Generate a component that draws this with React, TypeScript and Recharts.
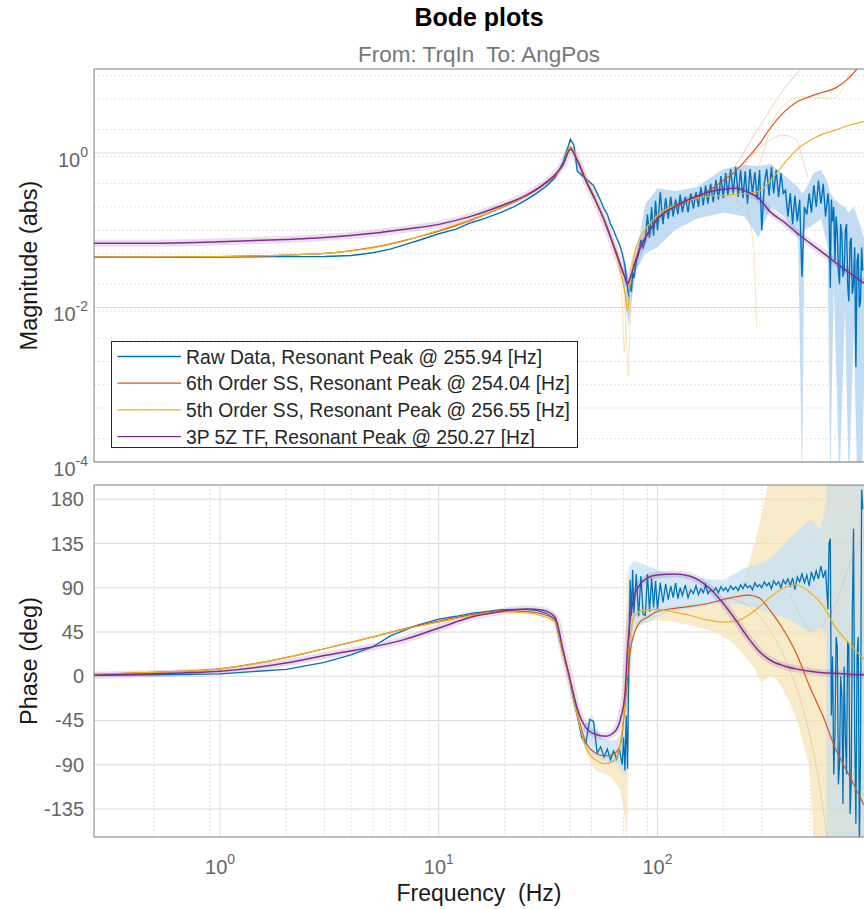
import { ComposedChart, Line, Area, XAxis, YAxis, CartesianGrid, ReferenceLine } from 'recharts'

const FONT = '"Liberation Sans", Arial, Helvetica, sans-serif'
const BLUE = '#0072BD'
const RED = '#D95319'
const YELLOW = '#EDB120'
const PURPLE = '#7E2F8E'
const AXIS = '#7f7f7f'
const TICK_TEXT = '#666666'

const F_MIN = 0.265
const F_MAX = 880
const MAG_MIN = 1e-4
const MAG_MAX = 12.2
const PH_MIN = -163.5
const PH_MAX = 194.5

// ---- fitted models, sampled at fitFreq [Hz]
const fitFreq = [0.265, 0.5, 1, 2, 3, 5, 7, 10, 14, 19, 25, 30, 34, 37, 40, 43, 47, 52, 58, 64, 68, 71, 73, 75, 78, 83, 90, 100, 120, 140, 170, 200, 230, 260, 290, 330, 380, 430, 500, 570, 650, 750, 880]

const ss6Mag = [0.045, 0.045, 0.0457, 0.0475, 0.05, 0.06, 0.074, 0.097, 0.134, 0.192, 0.275, 0.38, 0.51, 0.69, 1.18, 0.8, 0.43, 0.244, 0.123, 0.058, 0.035, 0.0245, 0.02, 0.0237, 0.035, 0.06, 0.091, 0.142, 0.198, 0.244, 0.32, 0.44, 0.6, 0.88, 1.26, 2.15, 3.4, 4.5, 5.4, 6.1, 6.9, 9.3, 16]
const ss5Mag = [0.045, 0.045, 0.0457, 0.0475, 0.05, 0.059, 0.073, 0.1, 0.137, 0.195, 0.28, 0.39, 0.52, 0.71, 1.22, 0.85, 0.47, 0.26, 0.126, 0.055, 0.0286, 0.0152, 0.0091, 0.0193, 0.0457, 0.0786, 0.112, 0.156, 0.21, 0.244, 0.275, 0.283, 0.292, 0.3, 0.318, 0.443, 0.735, 1.08, 1.46, 1.75, 1.97, 2.28, 2.57]
const tfMag = [0.068, 0.068, 0.0707, 0.076, 0.0806, 0.0912, 0.103, 0.119, 0.151, 0.204, 0.283, 0.39, 0.525, 0.71, 1.12, 0.8, 0.443, 0.244, 0.119, 0.055, 0.034, 0.0245, 0.0204, 0.0237, 0.034, 0.0566, 0.088, 0.138, 0.204, 0.252, 0.31, 0.338, 0.349, 0.309, 0.26, 0.17, 0.127, 0.094, 0.0677, 0.0513, 0.0384, 0.0285, 0.0207]

const ss6Phase = [2, 4, 7.5, 19, 28, 40, 48.5, 56, 62.5, 66.5, 66, 63, 57, 24, -8, -38, -67, -78, -81, -78, -68, -30, -2, 25, 42, 55, 60, 66, 69, 71, 74, 78, 81, 82.5, 80, 66, 46, 24, -12, -40, -73, -100, -131]
const ss5Phase = [2, 4, 7.5, 19, 28, 40, 48, 55, 61.5, 65.5, 64.5, 61, 55, 22, -8, -40, -72, -85, -89, -85, -65, -25, 15, 40, 60, 66, 67.5, 68, 65, 62, 57, 55, 56, 62, 70, 81, 90, 93, 85, 72, 50, 34, 17]
const tfPhase = [1, 2.5, 5, 13.5, 21, 30, 37.5, 49, 60, 65.5, 68.5, 67, 60, 27, -5, -33, -52, -59, -61, -56, -42, -18, 28, 58, 80, 93, 100, 103, 104, 102, 91, 74, 56, 39, 26, 16, 10.5, 7.5, 5, 3.5, 3, 2, 1.5]

// ---- raw measured response
const rawFreq = [
  0.265, 0.5, 1, 2, 3, 4, 5, 6, 7, 8,
  10, 12, 14, 16, 19, 22, 25, 28, 31, 34,
  37, 39, 40, 41.5, 43, 45, 47, 48, 49, 51,
  53, 55, 57, 59, 61, 63, 65, 67, 69, 70,
  71, 72, 73, 74, 75, 76, 77, 78, 80, 82,
  84, 86,
  88, 90, 92, 94, 96, 98, 100,
  103, 106, 109, 112, 115, 118, 121, 124, 127, 130,
  134, 138, 142, 146, 150, 154, 158, 162, 166, 170,
  175, 180, 185, 190, 195, 200, 205, 210, 216, 222,
  228, 234, 240, 246, 252, 258, 265, 272, 279, 286,
  293, 300, 308, 316, 324, 332, 340, 349, 358, 367,
  376, 385, 395, 405, 415, 425, 436, 447, 458, 470,
  482, 494, 506, 519, 532, 545, 559, 573, 587,
  602, 609, 617, 624, 632, 640, 648, 656, 664, 672,
  680, 688, 697, 705, 714, 723, 732, 741, 750, 760,
  769, 778, 788, 798, 808, 818, 828, 838, 848, 858,
  868,
]
const rawMag = [
  0.045, 0.0445, 0.045, 0.0455, 0.0457, 0.047, 0.051, 0.057, 0.065, 0.073,
  0.09, 0.103, 0.125, 0.14, 0.168, 0.2, 0.245, 0.3, 0.37, 0.48,
  0.75, 1.2, 1.5, 1.25, 0.58, 0.52, 0.47, 0.44, 0.42, 0.38,
  0.3, 0.24, 0.19, 0.16, 0.12, 0.1, 0.08, 0.066, 0.05, 0.042,
  0.034, 0.025, 0.018, 0.0137, 0.02, 0.016, 0.028, 0.024, 0.04, 0.05,
  0.075, 0.06,
  0.074, 0.16, 0.08, 0.2, 0.085, 0.24, 0.1,
  0.31, 0.12, 0.26, 0.14, 0.27, 0.15, 0.25, 0.16, 0.29, 0.17,
  0.27, 0.17, 0.3, 0.19, 0.31, 0.2, 0.36, 0.21, 0.38, 0.22,
  0.4, 0.23, 0.45, 0.25, 0.5, 0.26, 0.55, 0.28, 0.62, 0.3,
  0.66, 0.27, 0.6, 0.26, 0.58, 0.22, 0.62, 0.3, 0.56, 0.25,
  0.6, 0.1, 0.4, 0.62, 0.28, 0.66, 0.3, 0.6, 0.27, 0.55,
  0.3, 0.33, 0.15, 0.3, 0.12, 0.28, 0.13, 0.25, 0.025, 0.2,
  0.16, 0.3, 0.17, 0.38, 0.2, 0.44, 0.22, 0.4, 0.15,
  0.3, 0.2, 0.018, 0.25, 0.13, 0.2, 0.04, 0.15, 0.1, 0.03,
  0.02, 0.12, 0.09, 0.025, 0.03, 0.1, 0.12, 0.02, 0.012, 0.07,
  0.08, 0.015, 0.02, 0.06, 0.0017, 0.04, 0.05, 0.01, 0.012, 0.06,
  0.03,
]
const rawPhase = [
  1, 1.5, 2.5, 7, 14, 22, 30, 41, 47, 52,
  58, 61, 64, 65.5, 67.5, 68, 68, 67, 64, 58,
  22, 5, -8, -25, -40, -62, -68, -56, -44, -46,
  -78, -72, -82, -74, -85, -76, -84, -74, -90, -62,
  -96, -40, -94, 20, 98, 62, 108, 64, 104, 61,
  102, 63,
  62, 104, 66, 100, 70, 97, 68,
  95, 75, 94, 78, 92, 80, 95, 79, 90, 82,
  93, 80, 88, 84, 92, 83, 89, 85, 93, 84,
  88, 86, 90, 85, 91, 87, 90, 86, 92, 88,
  91, 87, 93, 89, 94, 90, 92, 88, 95, 91,
  93, 90, 96, 92, 95, 89, 97, 93, 96, 90,
  98, 94, 99, 92, 100, 88, 101, 96, 104, 95,
  103, 92, 106, 98, 107, 99, 112, 100, 108,
  68, 135, 140, -40, 20, -100, -60, 40, 30, -110,
  -90, 0, -20, -130, 10, -60, -100, 35, 30, -140,
  -110, 60, 150, -60, -150, 20, 40, -170, -80, 190,
  170,
]

// light-blue spread of the raw data
const rawMagBandFreq = [70, 72, 74, 76, 80, 88, 100, 120, 150, 200, 250, 290, 330, 380, 440, 458, 470, 520, 560, 600, 617, 640, 680, 720, 750, 790, 820, 860, 880]
const rawMagLo = [0.02, 0.01, 0.0055, 0.012, 0.03, 0.05, 0.06, 0.1, 0.14, 0.17, 0.15, 0.08, 0.2, 0.15, 0.08, 0.00005, 0.1, 0.12, 0.14, 0.06, 0.00005, 0.02, 0.00005, 0.01, 0.00005, 0.005, 0.00005, 0.00005, 0.001]
const rawMagHi = [0.045, 0.035, 0.022, 0.03, 0.05, 0.22, 0.35, 0.32, 0.36, 0.62, 0.7, 0.68, 0.72, 0.52, 0.36, 0.3, 0.32, 0.56, 0.6, 0.42, 0.3, 0.26, 0.22, 0.2, 0.17, 0.2, 0.15, 0.1, 0.08]

const rawPhBandFreq = [40, 45, 50, 55, 60, 65, 70, 72, 74, 78, 90, 110, 150, 200, 250, 300, 350, 400, 450, 500, 560, 590]
const rawPhLo = [-12, -66, -80, -85, -88, -88, -100, -100, -20, 50, 55, 65, 70, 75, 72, 68, 62, 58, 50, 45, 50, 40]
const rawPhHi = [-4, -55, -38, -62, -65, -65, -55, -30, 110, 118, 112, 105, 100, 98, 110, 115, 125, 140, 150, 160, 150, 180]
// beyond ~590 Hz the raw spread covers the whole phase range
const rawPhWideFreq = [592, 880]
const rawPhWideLo = [-250, -250]
const rawPhWideHi = [250, 250]

// uncertainty of the 5th order fit (phase)
const ss5BandFreq = [44, 47, 52, 58, 64, 68, 70, 71.5, 72.5, 73.5, 75, 78, 90, 100, 140, 170, 200, 230, 250, 275, 300, 330, 380, 420, 460, 500, 540, 880]
const ss5PhLo = [-52, -76, -95, -100, -108, -120, -135, -150, -165, -100, 20, 45, 55, 57, 52, 47, 40, 30, 20, 10, -5, 0, -16, -36, -65, -105, -250, -250]
const ss5PhHi = [-44, -64, -78, -80, -76, -60, -30, 30, 110, 100, 90, 75, 72, 72, 73, 74, 78, 88, 100, 132, 165, 210, 250, 250, 250, 250, 250, 250]

// faint bound curves
const ss6MagHiFreq = [170, 215, 290, 390, 500]
const ss6MagHi = [0.32, 0.56, 2.1, 7.5, 16]
const ss6MagLoFreq = [200, 215, 295, 376, 433, 462, 488]
const ss6MagLo = [0.4, 0.443, 1.19, 1.7, 1.46, 0.8, 0.48]
const ss5MagHiFreq = [230, 284, 353, 452, 635, 681, 781, 850]
const ss5MagHi = [0.3, 0.597, 3.27, 5.3, 5.1, 5.9, 12.9, 20]
const ss5MagLoFreq = [200, 223, 255, 275, 284]
const ss5MagLo = [0.27, 0.244, 0.181, 0.0605, 0.0056]
const notchAFreq = [62, 66, 69, 70.6, 72, 75, 80]
const notchA = [0.07, 0.04, 0.012, 0.0026, 0.01, 0.03, 0.06]
const notchBFreq = [64, 68, 71, 72.5, 73.6, 74.5, 76, 79]
const notchB = [0.06, 0.03, 0.01, 0.003, 0.0013, 0.004, 0.015, 0.04]
const ss6PhLoFreq = [200, 240, 290, 337, 405, 485, 535, 593, 620]
const ss6PhLo = [80, 76, 62, 42, 5, -50, -94, -161, -200]
const ss6PhHiFreq = [405, 450, 500, 540, 600, 672, 760, 880]
const ss6PhHi = [83, 62, 46, 46, 60, 80, 115, 145]

const legendItems = [
  { name: 'Raw Data, Resonant Peak @ 255.94 [Hz]', color: BLUE },
  { name: '6th Order SS, Resonant Peak @ 254.04 [Hz]', color: RED },
  { name: '5th Order SS, Resonant Peak @ 256.55 [Hz]', color: YELLOW },
  { name: '3P 5Z TF, Resonant Peak @ 250.27 [Hz]', color: PURPLE },
]

const pts = (fs: number[], vs: number[]) => fs.map((f, i) => ({ f, v: vs[i] }))
const band = (fs: number[], lo: number[], hi: number[]) => fs.map((f, i) => ({ f, v: [lo[i], hi[i]] }))

// grid positions
const freqMajor = [1, 10, 100]
const freqMinor: number[] = []
for (let k = -1; k <= 2; k++) {
  for (let d = 2; d <= 9; d++) {
    const v = d * Math.pow(10, k)
    if (v >= F_MIN && v <= F_MAX) freqMinor.push(v)
  }
}
const magMajor = [1e-4, 1e-2, 1]
const magMinor: number[] = []
for (let k = -4; k <= 1; k++) {
  for (let d = 1; d <= 9; d++) {
    const v = d * Math.pow(10, k)
    if (d === 1 && k % 2 === 0) continue
    if (v <= MAG_MAX) magMinor.push(v)
  }
}
const phaseTicks = [-135, -90, -45, 0, 45, 90, 135, 180]

function MagTick(props: any) {
  const { x, y, payload } = props
  const e = Math.round(Math.log10(payload.value))
  return (
    <text x={x} y={y} dy={14} textAnchor="end" fill={TICK_TEXT} fontSize={20} fontFamily={FONT}>
      10<tspan dy={-10} fontSize={14}>{e}</tspan>
    </text>
  )
}

function PhaseTick(props: any) {
  const { x, y, payload } = props
  return (
    <text x={x} y={y} dy={7} textAnchor="end" fill={TICK_TEXT} fontSize={20} fontFamily={FONT}>
      {payload.value}
    </text>
  )
}

function FreqTick(props: any) {
  const { x, y, payload } = props
  const e = Math.round(Math.log10(payload.value))
  return (
    <text x={x} y={y} dy={37} textAnchor="middle" fill={TICK_TEXT} fontSize={20} fontFamily={FONT}>
      10<tspan dy={-10} fontSize={14}>{e}</tspan>
    </text>
  )
}

const lineProps = { dot: false, activeDot: false, isAnimationActive: false, type: 'linear' as const }

export default function App() {
  return (
    <div style={{ position: 'absolute', left: 0, top: 0, width: 864, height: 909, overflow: 'hidden', background: '#fff', fontFamily: FONT }}>
      <div style={{ position: 'absolute', left: 0, top: 0 }}>
        <ComposedChart width={864} height={480} margin={{ top: 69, right: 0, bottom: 0, left: 0 }}>
          <CartesianGrid verticalValues={freqMinor} horizontalValues={magMinor} stroke="#e2e2e2" strokeDasharray="2 2" />
          <CartesianGrid verticalValues={freqMajor} horizontalValues={magMajor} stroke="#dadada" />
          <XAxis type="number" dataKey="f" scale="log" domain={[F_MIN, F_MAX]} allowDataOverflow ticks={freqMajor} tick={false} tickLine={false} height={18} stroke={AXIS} />
          <YAxis type="number" scale="log" domain={[MAG_MIN, MAG_MAX]} allowDataOverflow ticks={magMajor} width={94} tickSize={0} tickMargin={6} tick={(p: any) => <MagTick {...p} />} stroke={AXIS} />
          <ReferenceLine y={MAG_MAX} stroke={AXIS} />

          <Area data={band(rawMagBandFreq, rawMagLo, rawMagHi)} dataKey="v" stroke="none" fill="#c2ddf3" fillOpacity={1} isAnimationActive={false} activeDot={false} />
          <Line {...lineProps} data={pts(ss6MagHiFreq, ss6MagHi)} dataKey="v" stroke={RED} strokeOpacity={0.3} strokeWidth={1} type="monotone" />
          <Line {...lineProps} data={pts(ss6MagLoFreq, ss6MagLo)} dataKey="v" stroke={RED} strokeOpacity={0.25} strokeWidth={1} type="monotone" />
          <Line {...lineProps} data={pts(ss5MagHiFreq, ss5MagHi)} dataKey="v" stroke={YELLOW} strokeOpacity={0.35} strokeWidth={1} type="monotone" />
          <Line {...lineProps} data={pts(ss5MagLoFreq, ss5MagLo)} dataKey="v" stroke={YELLOW} strokeOpacity={0.3} strokeWidth={1} type="monotone" />
          <Line {...lineProps} data={pts(notchAFreq, notchA)} dataKey="v" stroke={YELLOW} strokeOpacity={0.3} strokeWidth={1} type="monotone" />
          <Line {...lineProps} data={pts(notchBFreq, notchB)} dataKey="v" stroke={YELLOW} strokeOpacity={0.3} strokeWidth={1} type="monotone" />
          <Line {...lineProps} data={pts(fitFreq, tfMag)} dataKey="v" stroke={PURPLE} strokeOpacity={0.16} strokeWidth={7} type="monotone" />

          <Line {...lineProps} data={pts(rawFreq, rawMag)} dataKey="v" stroke={BLUE} strokeWidth={1.4} />
          <Line {...lineProps} data={pts(fitFreq, ss6Mag)} dataKey="v" stroke={RED} strokeWidth={1.2} type="monotone" />
          <Line {...lineProps} data={pts(fitFreq, ss5Mag)} dataKey="v" stroke={YELLOW} strokeWidth={1.2} type="monotone" />
          <Line {...lineProps} data={pts(fitFreq, tfMag)} dataKey="v" stroke={PURPLE} strokeWidth={1.5} type="monotone" />
        </ComposedChart>
      </div>

      <div style={{ position: 'absolute', left: 0, top: 470 }}>
        <ComposedChart width={864} height={439} margin={{ top: 15, right: 0, bottom: 0, left: 0 }}>
          <CartesianGrid verticalValues={freqMinor} horizontal={false} stroke="#e2e2e2" strokeDasharray="2 2" />
          <CartesianGrid verticalValues={freqMajor} horizontalValues={phaseTicks} stroke="#dadada" />
          <XAxis type="number" dataKey="f" scale="log" domain={[F_MIN, F_MAX]} allowDataOverflow ticks={freqMajor} height={72} tickSize={0} tickMargin={0} tick={(p: any) => <FreqTick {...p} />} stroke={AXIS} />
          <YAxis type="number" domain={[PH_MIN, PH_MAX]} allowDataOverflow ticks={phaseTicks} width={94} tickSize={0} tickMargin={10} tick={(p: any) => <PhaseTick {...p} />} stroke={AXIS} />
          <ReferenceLine y={PH_MAX} stroke={AXIS} />

          <Area data={band(ss5BandFreq, ss5PhLo, ss5PhHi)} dataKey="v" stroke="none" fill="#f5e2b4" fillOpacity={0.7} isAnimationActive={false} activeDot={false} type="monotone" />
          <Area data={band(rawPhBandFreq, rawPhLo, rawPhHi)} dataKey="v" stroke="none" fill="#c6e0f4" fillOpacity={0.75} isAnimationActive={false} activeDot={false} />
          <Area data={band(rawPhWideFreq, rawPhWideLo, rawPhWideHi)} dataKey="v" stroke="none" fill="#bcd9f1" fillOpacity={0.55} isAnimationActive={false} activeDot={false} />
          <Line {...lineProps} data={pts(ss6PhLoFreq, ss6PhLo)} dataKey="v" stroke={RED} strokeOpacity={0.2} strokeWidth={1} type="monotone" />
          <Line {...lineProps} data={pts(ss6PhHiFreq, ss6PhHi)} dataKey="v" stroke={RED} strokeOpacity={0.15} strokeWidth={1} type="monotone" />
          <Line {...lineProps} data={pts(fitFreq, tfPhase)} dataKey="v" stroke={PURPLE} strokeOpacity={0.16} strokeWidth={7} type="monotone" />

          <Line {...lineProps} data={pts(rawFreq, rawPhase)} dataKey="v" stroke={BLUE} strokeWidth={1.3} />
          <Line {...lineProps} data={pts(fitFreq, ss6Phase)} dataKey="v" stroke={RED} strokeWidth={1.2} type="monotone" />
          <Line {...lineProps} data={pts(fitFreq, ss5Phase)} dataKey="v" stroke={YELLOW} strokeWidth={1.2} type="monotone" />
          <Line {...lineProps} data={pts(fitFreq, tfPhase)} dataKey="v" stroke={PURPLE} strokeWidth={1.5} type="monotone" />
        </ComposedChart>
      </div>

      <svg width={864} height={909} style={{ position: 'absolute', left: 0, top: 0, pointerEvents: 'none' }} fontFamily={FONT}>
        <text x={479} y={26} textAnchor="middle" fontSize={25} fontWeight="bold" fill="#000">Bode plots</text>
        <text x={479} y={62} textAnchor="middle" fontSize={22.5} fill="#777" style={{ whiteSpace: 'pre' }}>From: TrqIn  To: AngPos</text>
        <text transform="translate(37,265.5) rotate(-90)" textAnchor="middle" fontSize={23.5} fill="#1a1a1a">Magnitude (abs)</text>
        <text transform="translate(37,661) rotate(-90)" textAnchor="middle" fontSize={23.5} fill="#1a1a1a">Phase (deg)</text>
        <text x={479} y={901} textAnchor="middle" fontSize={23} fill="#1a1a1a" style={{ whiteSpace: 'pre' }}>Frequency  (Hz)</text>

        <rect x={111.5} y={341.5} width={466} height={106} fill="#fff" stroke="#262626" strokeWidth={1} />
        {legendItems.map((it, i) => (
          <g key={it.name}>
            <line x1={117.5} x2={181} y1={356.5 + i * 26.7} y2={356.5 + i * 26.7} stroke={it.color} strokeWidth={1.3} />
            <text x={186} y={356.5 + i * 26.7 + 7} fontSize={19.3} fill="#262626">{it.name}</text>
          </g>
        ))}
      </svg>
    </div>
  )
}
